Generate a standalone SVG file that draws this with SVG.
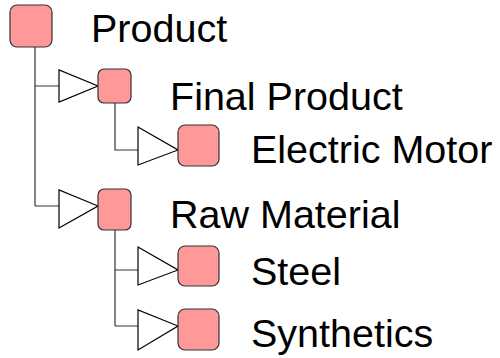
<svg xmlns="http://www.w3.org/2000/svg" width="500" height="358" viewBox="0 0 500 358">
<style>
.node{fill:#ff9999;stroke:#333333;stroke-width:1.2}
.lbl{font-family:"Liberation Sans",Arial,sans-serif;font-size:39.5px;fill:#000}
.edge{fill:none;stroke:#333333;stroke-width:1.2}
.arr{fill:#ffffff;stroke:#000000;stroke-width:1.2;stroke-linejoin:miter}
</style>
<rect width="500" height="358" fill="#ffffff"/>
<g id="connectors">
<path class="edge" d="M35 47V206M35 86H59M35 206H59"/>
<polygon class="arr" points="59,70 59,102 98,86"/>
<polygon class="arr" points="59,190 59,228 98,206"/>
<path class="edge" d="M115 103V150H138"/>
<polygon class="arr" points="138,127 138,165 178,150"/>
<path class="edge" d="M115 230V326M115 270H138M115 326H138"/>
<polygon class="arr" points="138,247 138,285 178,270"/>
<polygon class="arr" points="138,310 138,350 178,326"/>
</g>
<g id="product">
<rect class="node" x="10" y="5" width="42" height="42" rx="7"/>
<text class="lbl" x="91" y="42">Product</text>
</g>
<g id="final-product">
<rect class="node" x="98" y="69" width="33" height="34" rx="6"/>
<text class="lbl" x="170" y="110">Final Product</text>
</g>
<g id="electric-motor">
<rect class="node" x="178" y="125" width="41" height="41" rx="7"/>
<text class="lbl" x="251" y="163">Electric Motor</text>
</g>
<g id="raw-material">
<rect class="node" x="98" y="189" width="33" height="41" rx="6"/>
<text class="lbl" x="170" y="228">Raw Material</text>
</g>
<g id="steel">
<rect class="node" x="178" y="246" width="41" height="40" rx="7"/>
<text class="lbl" x="251" y="285">Steel</text>
</g>
<g id="synthetics">
<rect class="node" x="178" y="309" width="41" height="41" rx="7"/>
<text class="lbl" x="251" y="347">Synthetics</text>
</g>
</svg>
